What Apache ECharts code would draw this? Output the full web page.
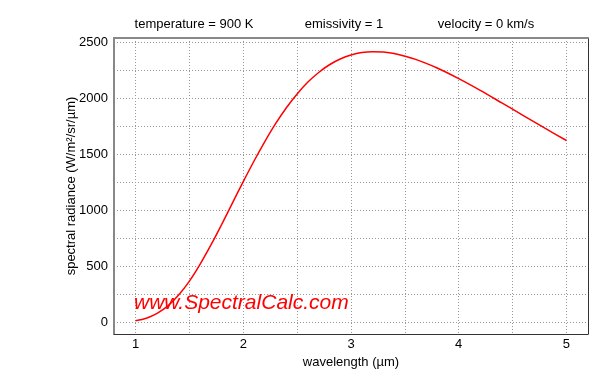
<!DOCTYPE html>
<html>
<head>
<meta charset="utf-8">
<script src="https://cdn.jsdelivr.net/npm/echarts@6/dist/echarts.min.js"></script>
<style>
  html, body { margin: 0; padding: 0; background: #fff; }
  #chart { width: 600px; height: 380px; }
</style>
</head>
<body>
<div id="chart"></div>
<script>
// wavelength (µm) and spectral radiance
var wavelength = [1.0, 1.1, 1.2, 1.3, 1.4, 1.5, 1.6, 1.7, 1.8, 1.9, 2.0, 2.1, 2.2, 2.3, 2.4, 2.5, 2.6,
                  2.7, 2.8, 2.9, 3.0, 3.1, 3.2, 3.3, 3.4, 3.6, 3.8, 4.0, 4.2, 4.4, 4.6, 4.8, 5.0];
var radiance = [14, 36, 79, 146, 243, 368, 520, 691, 875, 1067, 1257, 1441, 1614, 1774, 1917, 2040, 2146,
                2232, 2301, 2352, 2388, 2410, 2418, 2415, 2401, 2349, 2272, 2177, 2072, 1960, 1847, 1734, 1624];
var xTicks = [1, 1.5, 2, 2.5, 3, 3.5, 4, 4.5, 5];
var xLabels = [1, 2, 3, 4, 5];
var yTicks = [0, 250, 500, 750, 1000, 1250, 1500, 1750, 2000, 2250, 2500];
var yLabels = [0, 500, 1000, 1500, 2000, 2500];
var headerTexts = ['temperature = 900 K', 'emissivity = 1', 'velocity = 0 km/s'];
var headerX = [194, 344, 486];

var font = "'Liberation Sans', Arial, Helvetica, sans-serif";

var points = wavelength.map(function(w, i) { return [w, radiance[i]]; });

var chart = echarts.init(document.getElementById('chart'));

var graphics = headerTexts.map(function(t, i) {
    return {
        type: 'text',
        x: headerX[i],
        y: 24,
        style: { text: t, font: '13px ' + font, fill: '#000', align: 'center', verticalAlign: 'middle' }
    };
});
graphics.push({
    type: 'text',
    x: 134,
    y: 303,
    z: 5,
    style: {
        text: 'www.SpectralCalc.com',
        font: 'italic 21px ' + font,
        fill: '#ff0000',
        align: 'left',
        verticalAlign: 'middle'
    }
});

var gridLine = { show: true, lineStyle: { color: '#999', type: [1, 2], width: 1 } };

var option = {
    backgroundColor: '#fff',
    animation: false,
    grid: { left: 114, right: 12, top: 38, bottom: 46, show: false },
    graphic: graphics,
    xAxis: [{
        type: 'value',
        min: 0.8,
        max: 5.2,
        name: 'wavelength (µm)',
        nameLocation: 'middle',
        nameGap: 16,
        nameTextStyle: { fontSize: 13, color: '#000', fontFamily: font },
        axisLine: { show: true, onZero: false, lineStyle: { color: '#333', width: 1 } },
        axisTick: { show: false, customValues: xTicks },
        axisLabel: { fontSize: 13, color: '#000', fontFamily: font, margin: 4, customValues: xLabels },
        splitLine: gridLine
    }, {
        type: 'value',
        position: 'top',
        min: 0.8,
        max: 5.2,
        axisLine: { show: true, onZero: false, lineStyle: { color: '#888', width: 2 } },
        axisTick: { show: false },
        axisLabel: { show: false },
        splitLine: { show: false }
    }],
    yAxis: [{
        type: 'value',
        min: -105,
        max: 2540,
        name: 'spectral radiance (W/m²/sr/µm)',
        nameLocation: 'middle',
        nameGap: 36,
        nameMoveOverlap: false,
        nameTextStyle: { fontSize: 13, color: '#000', fontFamily: font },
        axisLine: { show: true, onZero: false, lineStyle: { color: '#888', width: 2 } },
        axisTick: { show: false, customValues: yTicks },
        axisLabel: {
            fontSize: 13, color: '#000', fontFamily: font, margin: 6, customValues: yLabels,
            formatter: function(v) { return String(v); }
        },
        splitLine: gridLine
    }, {
        type: 'value',
        position: 'right',
        min: -105,
        max: 2540,
        axisLine: { show: true, onZero: false, lineStyle: { color: '#333', width: 1 } },
        axisTick: { show: false },
        axisLabel: { show: false },
        splitLine: { show: false }
    }],
    series: [{
        type: 'line',
        data: points,
        smooth: 0.3,
        showSymbol: false,
        z: 3,
        lineStyle: { color: '#ff0000', width: 1.5 }
    }]
};

chart.setOption(option);
</script>
</body>
</html>
